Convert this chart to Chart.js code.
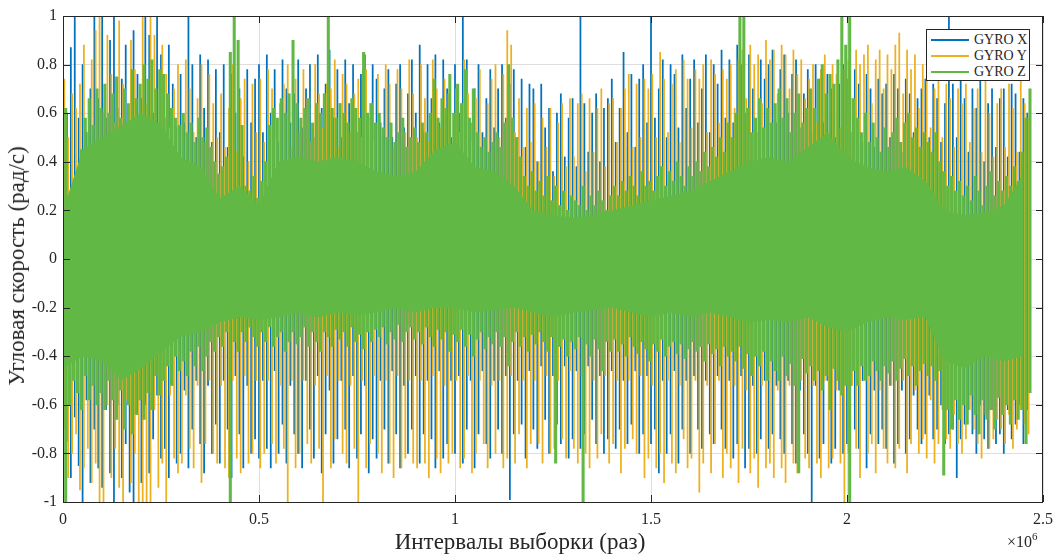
<!DOCTYPE html>
<html>
<head>
<meta charset="utf-8">
<script src="https://cdn.jsdelivr.net/npm/chart.js@4.4.0/dist/chart.umd.min.js"></script>
<style>
html,body{margin:0;padding:0;background:#fff;}
#wrap{position:relative;width:1063px;height:554px;font-family:"Liberation Serif","Times New Roman",serif;color:#262626;}
#chart{position:absolute;left:0;top:0;}
.ytitle{position:absolute;left:17px;top:266px;transform:translate(-50%,-50%) rotate(-90deg);font-size:23px;white-space:nowrap;}
.xtitle{position:absolute;left:520px;top:542px;transform:translate(-50%,-50%);font-size:23px;white-space:nowrap;}
.xexp{position:absolute;left:1007px;top:531px;font-size:16px;white-space:nowrap;}
.xexp sup{font-size:11px;position:relative;top:-1px;}
.legend{position:absolute;left:926px;top:29px;width:104px;height:52px;border:1px solid #262626;background:#fff;box-sizing:border-box;padding-top:2px;}
.legend .row{height:16px;display:flex;align-items:center;font-size:14px;}
.legend .sw{width:38px;height:2px;margin-left:4px;margin-right:5px;}
</style>
</head>
<body>
<div id="wrap">
<canvas id="chart" width="1063" height="554"></canvas>
<div class="ytitle">Угловая скорость (рад/с)</div>
<div class="xtitle">Интервалы выборки (раз)</div>
<div class="xexp">×10<sup>6</sup></div>
<div class="legend" id="legend"></div>
</div>
<script>
// axis ticks (x in units of 1e6 samples)
const xTicks=[0,0.5,1,1.5,2,2.5];
const yTicks=[-1,-0.8,-0.6,-0.4,-0.2,0,0.2,0.4,0.6,0.8,1];
const seriesNames=["GYRO X","GYRO Y","GYRO Z"];

// per-bin extremes, one bin = 0.01e6 samples
const gyroXHi=[
.85,.60,.87,1.0,.58,.80,.52,.70,1.0,.66,
1.0,.58,.90,1.0,.62,.74,.88,.56,.94,.76,
.66,1.0,.92,.60,1.0,.84,.58,.88,.72,.54,
.76,.56,1.0,.80,.50,.84,.62,.82,.48,.78,
.52,.80,.46,.76,.60,.70,.42,.78,.56,.74,
.80,.52,.84,.60,.78,.48,.82,.70,.56,.68,
.82,.54,.70,.80,.50,.84,.62,.72,.86,.58,
.78,.50,.82,.64,.80,.52,.76,.84,.58,.80,
.74,.56,.70,.78,.50,.72,.80,.54,.68,.82,
.60,.88,.52,.80,.66,.84,.56,.82,.70,.50,
.80,.60,1.0,.82,.56,.70,.80,.52,.66,.78,
.54,.70,.80,.58,.72,.78,.50,.74,.46,.72,
.70,.40,.72,.54,.62,.36,.60,.68,.42,.58,
.66,.38,1.0,.64,.44,.60,.68,.40,.62,.66,
.74,.48,.62,.85,.52,.76,.46,.74,.80,.56,
1.0,.58,.70,.82,.50,.80,.76,.54,.84,.62,
.74,.82,.56,.70,.84,.52,.80,.72,.86,.58,
.82,.56,.88,.80,.60,.84,.70,.52,.82,.74,
.80,.86,.56,.78,.84,.60,.76,.82,.54,.68,
.78,.52,.80,.74,.56,.76,.70,.50,.72,.80,
.74,.52,.78,.72,.48,.76,.70,.46,.74,.68,
.72,.50,.76,.70,.44,.74,.68,.52,.66,.70,
.74,.50,.72,.66,.48,.64,1.0,.72,.50,.74,
.66,.44,.70,.62,.74,.40,.64,.70,.46,.66,
.70,.42,.72,.68,.44,.66,.60];
const gyroXLo=[
-.60,-.75,-.90,-.65,-.85,-1.0,-.58,-.92,-.70,-.86,
-.94,-.62,-.88,-1.0,-.60,-.90,-.76,-.96,-1.0,-.64,
-.92,-.60,-.88,-.74,-.56,-.82,-.78,-.90,-.52,-.84,
-.80,-.54,-.86,-.70,-.50,-.76,-.88,-.52,-.80,-.68,
-.84,-.50,-.70,-.90,-.48,-.72,-.86,-.52,-.80,-.74,
-.82,-.50,-.78,-.86,-.46,-.80,-.68,-.84,-.52,-.72,
-.80,-.86,-.50,-.70,-.82,-.48,-.88,-.72,-.54,-.84,
-.74,-.50,-.70,-.86,-.48,-.82,-.72,-.52,-.88,-.74,
-.82,-.50,-.70,-.84,-.46,-.72,-.86,-.52,-.80,-.70,
-.48,-.84,-.72,-.50,-.74,-.86,-.46,-.82,-.76,-.50,
-.80,-.48,-.84,-.70,-.50,-.86,-.72,-.46,-.76,-.82,
-.50,-.70,-.80,-.48,-.99,-.72,-.50,-.68,-.82,-.46,
-.70,-.78,-.44,-.66,-.80,-.48,-.68,-.76,-.44,-.82,
-.74,-.46,-.78,-.72,-.44,-.66,-.76,-.48,-.80,-.74,
-.46,-.78,-.70,-.50,-.76,-.68,-.46,-.80,-.72,-.48,
-.76,-.70,-.88,-.50,-.80,-.72,-.46,-.84,-.70,-.50,
-.80,-.48,-.70,-.78,-.50,-.72,-.76,-.48,-.70,-.78,
-.50,-.82,-.76,-.48,-.86,-.78,-.52,-.80,-.74,-.50,
-.78,-.72,-.52,-.74,-.80,-.50,-.76,-.84,-.54,-.72,
-.80,-1.0,-.52,-.82,-.76,-.50,-.84,-.78,-.54,-.80,
-.76,-.52,-.70,-.78,-.50,-.86,-.72,-.54,-.76,-.70,
-.78,-.52,-.84,-.76,-.54,-.80,-.74,-.56,-.70,-.76,
-.72,-.56,-.74,-.70,-.60,-.76,-.72,-.70,-.90,-.74,
-.68,-.62,-.72,-.80,-.60,-.74,-.78,-.62,-.76,-.72,
-.80,-.62,-.74,-.68,-.60,-.76,-.62];
const gyroYHi=[
.74,.50,.68,.62,.72,.88,.52,.82,.94,1.0,
.60,.92,.76,.56,.98,.72,.54,.90,.78,.58,
1.0,.64,1.0,.92,.56,.88,.76,.54,.70,.80,
.50,.82,.70,.52,.66,.80,.48,.76,.64,.50,
.68,.46,.62,.80,.44,.66,.74,.40,.72,.52,
.74,.48,.78,.70,.50,.64,.72,.80,.46,.74,
.52,.78,.66,.48,.80,.68,.54,.72,.70,.82,
.46,.76,.72,.52,.68,.74,.50,.78,.64,.48,
.76,.50,.80,.72,.46,.78,.70,.52,.82,.68,
.50,.80,.66,.48,.82,.70,.54,.74,.68,.46,
.70,.52,.82,.68,.48,.66,.78,.50,.64,.74,
.80,.50,.76,.94,.88,.52,.66,.46,.62,.48,
.64,.40,.58,.46,.62,.34,.56,.64,.38,.66,
.42,.64,.68,.36,.66,.44,.62,.70,.38,.64,
.66,.48,.62,.70,.76,.46,.72,.50,.74,.70,
.76,.50,.85,.74,.52,.72,.78,.48,.82,.74,
.54,.78,.74,.80,.52,.82,.76,.56,.78,.74,
.80,.62,.82,.86,.66,.88,.80,.84,.64,.90,
.82,.86,.68,.88,.84,.70,.86,.76,.82,.66,
.74,.80,.56,.78,.84,.52,.80,.76,.54,.78,
.82,.66,.86,.80,.84,.88,.64,.82,.86,.70,
.84,.78,.88,.93,.68,.86,.78,.84,.62,.80,
.74,.54,.70,.76,.50,.72,.66,.46,.70,.64,
.72,.48,.62,.70,.44,.74,.60,.42,.64,.70,
.46,.72,.62,.44,.74,.64,.58];
const gyroYLo=[
-.70,-.90,-.80,-.72,-.95,-.86,-.78,-.92,-.84,-1.0,
-1.0,-.60,-.90,-.78,-.94,-1.0,-.58,-.92,-.80,-1.0,
-1.0,-1.0,-1.0,-.62,-.94,-.84,-1.0,-.56,-.82,-.88,
-.84,-.56,-.78,-.86,-.52,-.92,-.76,-.50,-.80,-.84,
-.52,-.86,-.90,-.50,-.82,-.88,-.48,-.84,-.80,-.50,
-.86,-.80,-.50,-.76,-.84,-.52,-.78,-1.0,-.50,-.86,
-.80,-.50,-.76,-.84,-.52,-.78,-1.0,-.48,-.86,-.74,
-.50,-.80,-.84,-.52,-.78,-1.0,-.50,-.86,-.76,-.48,
-.80,-.88,-.50,-.84,-.90,-.48,-.86,-.82,-.50,-.84,
-.86,-.50,-.84,-.90,-.48,-.82,-.88,-.52,-.84,-.80,
-.50,-.86,-.82,-.48,-.88,-.80,-.50,-.76,-.86,-.52,
-.80,-.50,-.86,-.82,-.48,-.84,-.72,-.50,-.86,-.76,
-.50,-.76,-.84,-.48,-.80,-.78,-.50,-.74,-.82,-.46,
-.78,-.84,-.48,-.80,-.86,-.50,-.82,-.72,-.48,-.84,
-.76,-.50,-.88,-.78,-.50,-.74,-.80,-.48,-.90,-.82,
-.52,-.86,-.80,-.92,-.50,-.84,-.88,-.52,-.74,-.86,
-.82,-.50,-.96,-.84,-.52,-.88,-.76,-.50,-.90,-.80,
-.86,-.52,-.92,-.78,-.54,-.88,-.82,-.94,-.52,-.86,
-.84,-.90,-.54,-.86,-.92,-.52,-.84,-.88,-.50,-.82,
-.86,-.52,-.84,-.90,-.50,-.86,-.82,-.54,-.84,-1.0,
-.80,-.52,-.78,-.90,-.50,-.80,-.76,-.88,-.54,-.78,
-.84,-.52,-.86,-.78,-.50,-.88,-.76,-.54,-.80,-.74,
-.82,-.58,-.84,-.76,-.62,-.74,-.78,-.64,-.76,-.80,
-.74,-.62,-.70,-.76,-.82,-.64,-.78,-.74,-.66,-.70,
-.76,-.64,-.78,-.70,-.62,-.68,-.72];
const gyroZHi=[
.62,.25,.30,.22,.45,.58,.66,.55,.70,.62,
.72,.60,.68,.75,.58,.70,.64,.78,.66,.72,
.80,.74,.82,.70,.78,.76,.68,.62,.58,.55,
.60,.52,.56,.48,.58,.50,.54,.46,.40,.35,
.38,.42,.85,1.0,.90,.55,.30,.28,.34,.25,
.32,.40,.55,.62,.58,.66,.60,.68,.90,.64,
.58,.62,.66,.56,.64,.60,.68,1.0,.62,.58,
.64,.60,.56,.66,.62,.58,.85,.60,.64,.56,
.60,.54,.50,.56,.48,.52,.58,.46,.50,.54,
.48,.56,.52,.60,.74,.58,.66,.62,.76,.60,
.72,.64,.78,.58,.70,.52,.46,.50,.44,.48,
.52,.46,.56,.80,.58,.50,.42,.34,.30,.36,
.28,.32,.26,.34,.24,.30,.22,.28,.20,.26,
.24,.22,.30,.20,.26,.22,.28,.24,.20,.26,
.30,.26,.32,.28,.34,.30,.26,.36,.30,.32,
.28,.34,.38,.30,.36,.32,.40,.34,.30,.38,
.34,.40,.36,.44,.38,.46,.42,.50,.44,.56,
.50,.60,1.0,1.0,.62,.52,.58,.66,.54,.62,
.56,.64,.70,.58,.66,.52,.60,.68,.56,.62,
.70,.62,.74,.80,.68,.76,.72,.82,1.0,.88,
1.0,.66,.58,.52,.60,.48,.56,.50,.44,.54,
.46,.52,.58,.48,.56,.60,.50,.54,.46,.52,
.48,.44,.52,.40,.36,.30,.34,.28,.32,.26,
.30,.24,.34,.28,.22,.30,.36,.26,.32,.28,
.34,.30,.38,.32,.44,.58,.70];
const gyroZLo=[
-1.0,-.60,-.50,-.55,-.62,-.48,-.58,-.52,-.60,-.55,
-.62,-.50,-.58,-.66,-.54,-.70,-.60,-.72,-.64,-.58,
-.66,-.55,-.62,-.48,-.56,-.50,-.44,-.52,-.40,-.46,
-.42,-.48,-.38,-.44,-.36,-.46,-.40,-.34,-.38,-.32,
-.36,-.30,-1.0,-.34,-.38,-.30,-.34,-.28,-.32,-.36,
-.30,-.34,-.28,-.36,-.32,-.30,-.38,-.34,-.30,-.35,
-.32,-.28,-.36,-.30,-.34,-.38,-.30,-.32,-.36,-.29,
-.33,-.30,-.36,-.28,-.34,-.31,-.37,-.30,-.34,-.29,
-.32,-.28,-.35,-.30,-.33,-.27,-.34,-.30,-.28,-.33,
-.30,-.35,-.28,-.32,-.36,-.29,-.33,-.30,-.38,-.31,
-.34,-.29,-.36,-.31,-.40,-.33,-.30,-.37,-.32,-.35,
-.30,-.36,-.32,-.44,-.34,-.30,-.36,-.32,-.38,-.31,
-.35,-.30,-.34,-.38,-.32,-.84,-.36,-.33,-.40,-.34,
-.37,-.32,-1.0,-.35,-.40,-.33,-.37,-.46,-.34,-.38,
-.33,-.38,-.35,-.40,-.32,-.36,-.39,-.34,-.37,-.42,
-.35,-.38,-.33,-.40,-.36,-.34,-.39,-.35,-.41,-.37,
-.34,-.38,-.36,-.42,-.35,-.39,-.37,-.44,-.36,-.40,
-.38,-.42,-.36,-.45,-.39,-.48,-.40,-.44,-.38,-.50,
-.42,-.46,-.50,-.40,-.48,-.43,-.52,-.88,-.41,-.47,
-.44,-.50,-.46,-.54,-.48,-.62,-.45,-.50,-.56,-.52,
-1.0,-.46,-.52,-.44,-.50,-.48,-.42,-.46,-.50,-.44,
-.47,-.42,-.50,-.45,-.41,-.48,-.44,-.52,-.46,-.43,
-.48,-.44,-.50,-.46,-.89,-.62,-.70,-.58,-.66,-.60,
-.68,-.56,-.64,-.72,-.58,-.66,-.62,-.70,-.57,-.64,
-.60,-.68,-.58,-.66,-.62,-.76,-.55];

// solid part of the GYRO Z band, one point per 0.05e6 samples
const gyroZCoreTop=[
.20,.45,.50,.55,.60,.55,.42,.38,.25,.30,
.22,.40,.42,.40,.42,.40,.36,.34,.36,.45,
.48,.38,.36,.30,.20,.18,.17,.18,.20,.22,
.24,.26,.28,.32,.36,.40,.42,.40,.46,.52,
.42,.38,.36,.38,.32,.20,.18,.19,.22,.35];
const gyroZCoreBot=[
-.45,-.40,-.42,-.50,-.45,-.38,-.32,-.30,-.26,-.24,
-.25,-.24,-.22,-.24,-.22,-.23,-.22,-.20,-.22,-.20,
-.20,-.22,-.21,-.20,-.22,-.24,-.22,-.21,-.20,-.22,
-.24,-.22,-.24,-.22,-.24,-.26,-.25,-.26,-.24,-.28,
-.30,-.26,-.24,-.25,-.24,-.42,-.45,-.40,-.42,-.40];

const BIN=0.01, CORE_BIN=0.05;
const BLUE="#0072BD", ORANGE="#EDB120", GREEN="#61B845";

function spikes(hi,lo,shift){
return hi.map((h,i)=>({x:i*BIN+shift,y:[lo[i],h]}));
}
function line(vals){
return vals.map((v,i)=>({x:i*CORE_BIN,y:v}));
}

/* legend */
const legend=document.getElementById("legend");
[BLUE,ORANGE,GREEN].forEach((c,i)=>{
legend.innerHTML+=`<div class="row"><span class="sw" style="background:${c}"></span>${seriesNames[i]}</div>`;
});

/* box + inward ticks like matlab */
const boxPlugin={
id:"box",
afterDatasetsDraw(chart){
const {ctx,chartArea:a,scales}=chart;
ctx.save();
ctx.strokeStyle="#262626";
ctx.lineWidth=1;
ctx.beginPath();
xTicks.forEach(v=>{
const p=Math.round(scales.x.getPixelForValue(v))+0.5;
ctx.moveTo(p,a.bottom);ctx.lineTo(p,a.bottom-7);
ctx.moveTo(p,a.top);ctx.lineTo(p,a.top+7);
});
yTicks.forEach(v=>{
const p=Math.round(scales.y.getPixelForValue(v))+0.5;
ctx.moveTo(a.left,p);ctx.lineTo(a.left+7,p);
ctx.moveTo(a.right,p);ctx.lineTo(a.right-7,p);
});
ctx.stroke();
ctx.strokeRect(a.left+0.5,a.top+0.5,a.right-a.left-1,a.bottom-a.top);
ctx.restore();
}
};

const tickFont={family:"'Liberation Serif','Times New Roman',serif",size:16};

new Chart(document.getElementById("chart"),{
type:"bar",
data:{
datasets:[
{type:"line",label:"core top",data:line(gyroZCoreTop),borderWidth:0,pointRadius:0,fill:"+1",backgroundColor:GREEN,order:0},
{type:"line",label:"core bot",data:line(gyroZCoreBot),borderWidth:0,pointRadius:0,fill:false,order:0},
{label:seriesNames[2],data:spikes(gyroZHi,gyroZLo,0.0068),backgroundColor:GREEN,barThickness:2.4,grouped:false,order:1},
{label:seriesNames[1],data:spikes(gyroYHi,gyroYLo,0.0033),backgroundColor:ORANGE,barThickness:1.1,grouped:false,order:2},
{label:seriesNames[0],data:spikes(gyroXHi,gyroXLo,0),backgroundColor:BLUE,barThickness:1.1,grouped:false,order:3}
]
},
options:{
responsive:false,
animation:false,
events:[],
devicePixelRatio:1,
layout:{padding:{top:16,right:20,left:0,bottom:0}},
plugins:{legend:{display:false},tooltip:{enabled:false}},
scales:{
x:{
type:"linear",min:0,max:2.5,offset:false,
grid:{color:"#dedede",drawTicks:false,offset:false},
border:{display:false},
afterBuildTicks:s=>{s.ticks=xTicks.map(v=>({value:v}));},
afterFit:s=>{s.height=52;},
ticks:{color:"#262626",font:tickFont,padding:8,maxRotation:0,callback:v=>String(v)}
},
y:{
min:-1,max:1,
grid:{color:"#dedede",drawTicks:false},
border:{display:false},
afterBuildTicks:s=>{s.ticks=yTicks.map(v=>({value:v}));},
afterFit:s=>{s.width=63;},
ticks:{color:"#262626",font:tickFont,padding:6,callback:v=>String(v)}
}
}
},
plugins:[boxPlugin]
});
</script>
</body>
</html>
